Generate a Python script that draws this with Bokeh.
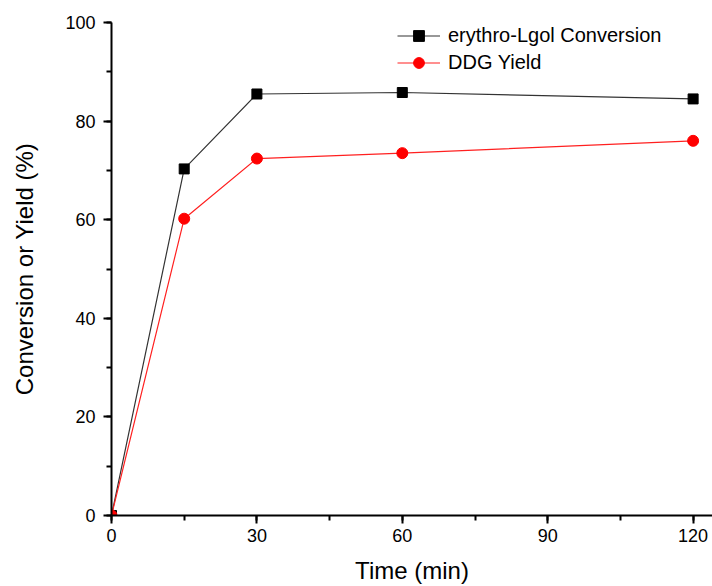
from bokeh.plotting import figure
from bokeh.models import Legend, LegendItem, SingleIntervalTicker, ColumnDataSource, Range1d
from bokeh.embed import file_html
from bokeh.resources import INLINE

time_min = [0, 15, 30, 60, 120]
conversion = [0, 70.3, 85.5, 85.8, 84.5]
ddg_yield = [0, 60.2, 72.4, 73.5, 76.0]

FONT = "Liberation Sans"

p = figure(width=712, height=586, output_backend="svg", toolbar_location=None,
           x_range=Range1d(0, 124.0), y_range=Range1d(0, 100),
           min_border_left=111, min_border_top=22, min_border_bottom=71, min_border_right=0)
p.outline_line_color = None
p.grid.visible = False
p.background_fill_color = "white"
p.border_fill_color = "white"

src1 = ColumnDataSource(dict(x=time_min, y=conversion))
src2 = ColumnDataSource(dict(x=time_min, y=ddg_yield))

l1 = p.line("x", "y", source=src1, line_color="#333333", line_width=1.2)
m1 = p.scatter("x", "y", source=src1, marker="square", size=10, fill_color="black", line_color="black")
l2 = p.line("x", "y", source=src2, line_color="#ff2020", line_width=1.2)
m2 = p.scatter("x", "y", source=src2, marker="circle", size=11, fill_color="#ff0000", line_color="#ff0000")

p.xaxis.ticker = SingleIntervalTicker(interval=30, num_minor_ticks=2)
p.yaxis.ticker = SingleIntervalTicker(interval=20, num_minor_ticks=2)

for ax in (p.xaxis[0], p.yaxis[0]):
    ax.axis_line_width = 2
    ax.axis_line_color = "black"
    ax.major_tick_line_width = 2
    ax.minor_tick_line_width = 2
    ax.major_tick_in = 0
    ax.major_tick_out = 8
    ax.minor_tick_in = 0
    ax.minor_tick_out = 5
    ax.major_label_text_font = FONT
    ax.major_label_text_font_size = "18px"
    ax.major_label_text_color = "black"
    ax.axis_label_text_font = FONT
    ax.axis_label_text_font_size = "24px"
    ax.axis_label_text_font_style = "normal"
    ax.axis_label_text_color = "black"

p.xaxis.major_label_standoff = 5
p.yaxis.major_label_standoff = 8
p.xaxis.axis_label = "Time (min)"
p.yaxis.axis_label = "Conversion or Yield (%)"
p.xaxis.axis_label_standoff = 12
p.yaxis.axis_label_standoff = 24

legend = Legend(items=[
    LegendItem(label="erythro-Lgol Conversion", renderers=[l1, m1]),
    LegendItem(label="DDG Yield", renderers=[l2, m2]),
], location=(286, 439))
legend.label_text_font = FONT
legend.label_text_font_size = "20px"
legend.label_text_color = "black"
legend.glyph_width = 43
legend.glyph_height = 27
legend.label_height = 27
legend.label_standoff = 8
legend.spacing = 0
legend.padding = 0
legend.margin = 0
legend.border_line_color = None
legend.background_fill_alpha = 0
p.add_layout(legend, "center")

open("out.html", "w").write(file_html(p, INLINE))
